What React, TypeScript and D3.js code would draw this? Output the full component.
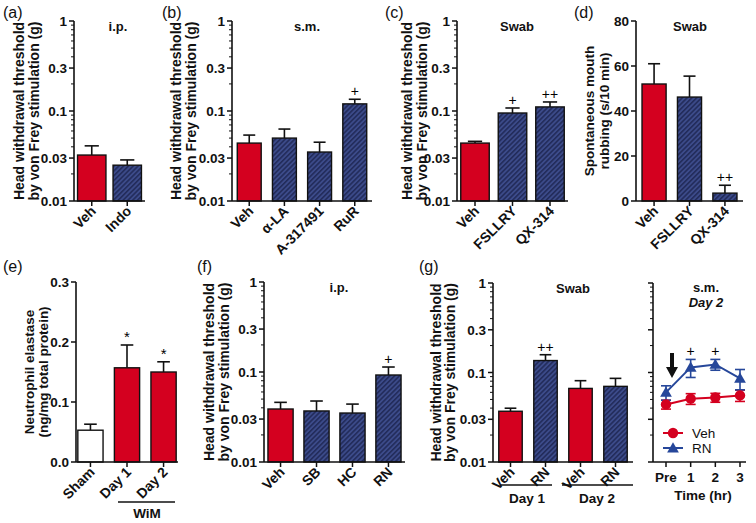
import React from "react";
import * as d3 from "d3";

// ---- data ----
const catsA = ["Veh", "Indo"];
const meanA = [0.0324, 0.025];
const semA = [0.0086, 0.0036];
const fillA = ["red", "hatch"];
const markA = ["", ""];

const catsB = ["Veh", "α-LA", "A-317491", "RuR"];
const meanB = [0.044, 0.05, 0.035, 0.12];
const semB = [0.01, 0.013, 0.01, 0.015];
const fillB = ["red", "hatch", "hatch", "hatch"];
const markB = ["", "", "", "+"];

const catsC = ["Veh", "FSLLRY", "QX-314"];
const meanC = [0.044, 0.095, 0.111];
const semC = [0.002, 0.013, 0.015];
const fillC = ["red", "hatch", "hatch"];
const markC = ["", "+", "++"];

const catsD = ["Veh", "FSLLRY", "QX-314"];
const meanD = [52, 46.2, 3.5];
const semD = [9, 9.3, 3.5];
const fillD = ["red", "hatch", "hatch"];
const markD = ["", "", "++"];

const catsE = ["Sham", "Day 1", "Day 2"];
const meanE = [0.053, 0.157, 0.15];
const semE = [0.01, 0.038, 0.017];
const fillE = ["white", "red", "red"];
const markE = ["", "*", "*"];

const catsF = ["Veh", "SB", "HC", "RN"];
const meanF = [0.0388, 0.0369, 0.035, 0.0926];
const semF = [0.0072, 0.0107, 0.009, 0.021];
const fillF = ["red", "hatch", "hatch", "hatch"];
const markF = ["", "", "", "+"];

const catsG = ["Veh", "RN", "Veh", "RN"];
const meanG = [0.0369, 0.136, 0.0664, 0.07];
const semG = [0.003, 0.022, 0.0146, 0.016];
const fillG = ["red", "hatch", "red", "hatch"];
const markG = ["", "++", "", ""];

const times = ["Pre", "1", "2", "3"];
const vehLine = [0.044, 0.051, 0.0525, 0.0555];
const vehLineSem = [0.005, 0.007, 0.006, 0.008];
const rnLine = [0.06, 0.114, 0.123, 0.086];
const rnLineSem = [0.011, 0.026, 0.017, 0.022];
const rnLineMark = ["", "+", "+", ""];

const logTicks = [0.01, 0.03, 0.1, 0.3, 1];
const logTickLabels = ["0.01", "0.03", "0.1", "0.3", "1"];
const ticksD = [0, 20, 40, 60, 80];
const ticksE = [0, 0.1, 0.2, 0.3];
const ticksELabels = ["0.0", "0.1", "0.2", "0.3"];

const headLabel = ["Head withdrawal threshold", "by von Frey stimulation (g)"];

const RED = "#d4001f";
const BLUE = "#3c4b8a";
const LINE_BLUE = "#26479a";
const INK = "#111";
const FONT = "Liberation Sans, Arial, sans-serif";

const fillOf = (f: string) =>
  f === "red" ? RED : f === "white" ? "#fff" : "url(#hatch)";

interface PanelProps {
  tag: string;
  tagX: number;
  title: string;
  titleX: number;
  axisX: number;
  xEnd: number;
  yTop: number;
  yBot: number;
  pi: number;
  po: number;
  cats: string[];
  means: number[];
  sems: number[];
  fills: string[];
  marks: string[];
  kind: "log" | "d" | "e";
  ylab: string[];
  ylabX: number[];
}

const BarPanel: React.FC<PanelProps> = (p) => {
  const x = d3
    .scaleBand<number>()
    .domain(p.cats.map((_, i) => i))
    .range([p.axisX, p.xEnd])
    .paddingInner(p.pi)
    .paddingOuter(p.po);

  let y: any;
  let major: number[];
  let majorLab: string[];
  let minor: number[] = [];
  if (p.kind === "log") {
    y = d3.scaleLog().domain([0.01, 1]).range([p.yBot, p.yTop]);
    major = logTicks;
    majorLab = logTickLabels;
    minor = y.ticks().filter((t: number) => !logTicks.some((m) => Math.abs(m - t) < 1e-9));
  } else if (p.kind === "d") {
    y = d3.scaleLinear().domain([0, 80]).range([p.yBot, p.yTop]);
    major = ticksD;
    majorLab = ticksD.map(String);
  } else {
    y = d3.scaleLinear().domain([0, 0.3]).range([p.yBot, p.yTop]);
    major = ticksE;
    majorLab = ticksELabels;
  }
  const bw = x.bandwidth();
  const yMid = (p.yTop + p.yBot) / 2;

  return (
    <g>
      <text x={p.tagX} y={p.yTop < 100 ? 18 : 272} fontSize={16} fill={INK}>
        {p.tag}
      </text>
      <text x={p.titleX} y={p.yTop + 10} fontSize={13} fontWeight="bold" textAnchor="middle" fill={INK}>
        {p.title}
      </text>
      {p.ylab.map((l, i) => (
        <text
          key={i}
          transform={`translate(${p.ylabX[i]},${yMid}) rotate(-90)`}
          textAnchor="middle"
          fontSize={p.kind === "log" ? 14 : 13.5}
          fontWeight="bold"
          fill={INK}
        >
          {l}
        </text>
      ))}
      {/* bars */}
      {p.means.map((m, i) => {
        const bx = x(i)!;
        const cx = bx + bw / 2;
        const ty = y(m);
        const ey = y(m + p.sems[i]);
        return (
          <g key={i}>
            <line x1={cx} x2={cx} y1={ty} y2={ey} stroke={INK} strokeWidth={1.6} />
            <line x1={cx - bw / 4} x2={cx + bw / 4} y1={ey} y2={ey} stroke={INK} strokeWidth={1.6} />
            <rect x={bx} y={ty} width={bw} height={p.yBot - ty} fill={fillOf(p.fills[i])} stroke={INK} strokeWidth={1.4} />
            {p.marks[i] && (
              <text x={cx} y={ey - 3} textAnchor="middle" fontSize={p.marks[i] === "*" ? 15 : 14} fill="#000">
                {p.marks[i]}
              </text>
            )}
          </g>
        );
      })}
      {/* y axis */}
      <line x1={p.axisX} x2={p.axisX} y1={p.yTop} y2={p.yBot} stroke={INK} strokeWidth={1.6} />
      {minor.map((t) => (
        <line key={t} x1={p.axisX - 3} x2={p.axisX} y1={y(t)} y2={y(t)} stroke={INK} strokeWidth={1} />
      ))}
      {major.map((t, i) => (
        <g key={t}>
          <line x1={p.axisX - 5} x2={p.axisX} y1={y(t)} y2={y(t)} stroke={INK} strokeWidth={1.5} />
          <text x={p.axisX - 7} y={y(t) + 5} textAnchor="end" fontSize={13.5} fontWeight="bold" fill={INK}>
            {majorLab[i]}
          </text>
        </g>
      ))}
      {/* x axis */}
      <line x1={p.axisX} x2={p.xEnd} y1={p.yBot} y2={p.yBot} stroke={INK} strokeWidth={1.6} />
      {p.cats.map((c, i) => {
        const cx = x(i)! + bw / 2;
        return (
          <g key={i}>
            <line x1={cx} x2={cx} y1={p.yBot} y2={p.yBot + 5} stroke={INK} strokeWidth={1.5} />
            <text
              transform={`translate(${cx + 5},${p.yBot + 11}) rotate(-45)`}
              textAnchor="end"
              fontSize={14}
              fontWeight="bold"
              fill={INK}
            >
              {c}
            </text>
          </g>
        );
      })}
    </g>
  );
};

const LinePanel: React.FC = () => {
  const axisX = 653;
  const xEnd = 746;
  const yTop = 283;
  const yBot = 462;
  const x = d3.scalePoint<string>().domain(times).range([666, 740]);
  const y = d3.scaleLog().domain([0.01, 1]).range([yBot, yTop]);
  const minor = y.ticks().filter((t) => !logTicks.some((m) => Math.abs(m - t) < 1e-9));
  const line = d3
    .line<number>()
    .x((_, i) => x(times[i])!)
    .y((d) => y(d));
  const tri = d3.symbol().type(d3.symbolTriangle).size(60)();
  const circ = d3.symbol().type(d3.symbolCircle).size(85)();

  const errs = (vals: number[], sems: number[], color: string) =>
    vals.map((v, i) => {
      const cx = x(times[i])!;
      const hi = y(v + sems[i]);
      const lo = y(v - sems[i]);
      return (
        <g key={i} stroke={color} strokeWidth={1.6}>
          <line x1={cx} x2={cx} y1={hi} y2={lo} />
          <line x1={cx - 5} x2={cx + 5} y1={hi} y2={hi} />
          <line x1={cx - 5} x2={cx + 5} y1={lo} y2={lo} />
        </g>
      );
    });

  const ax = x("Pre")! + 6;
  return (
    <g>
      <text x={706} y={yTop + 9} fontSize={13} fontWeight="bold" textAnchor="middle" fill={INK}>
        s.m.
      </text>
      <text x={706} y={yTop + 24} fontSize={13} fontWeight="bold" fontStyle="italic" textAnchor="middle" fill={INK}>
        Day 2
      </text>
      <path d={line(vehLine)!} fill="none" stroke={RED} strokeWidth={2} />
      <path d={line(rnLine)!} fill="none" stroke={LINE_BLUE} strokeWidth={2} />
      {errs(vehLine, vehLineSem, RED)}
      {errs(rnLine, rnLineSem, LINE_BLUE)}
      {vehLine.map((v, i) => (
        <path key={i} d={circ!} transform={`translate(${x(times[i])},${y(v)})`} fill={RED} />
      ))}
      {rnLine.map((v, i) => (
        <g key={i}>
          <path d={tri!} transform={`translate(${x(times[i])},${y(v) + 1})`} fill={LINE_BLUE} />
          {rnLineMark[i] && (
            <text x={x(times[i])} y={y(v + rnLineSem[i]) - 3} textAnchor="middle" fontSize={14} fill="#000">
              {rnLineMark[i]}
            </text>
          )}
        </g>
      ))}
      {/* arrow */}
      <path
        d={`M${ax - 2},${yTop + 70} L${ax + 2},${yTop + 70} L${ax + 2},${yTop + 84} L${ax + 6},${yTop + 84} L${ax},${yTop + 95} L${ax - 6},${yTop + 84} L${ax - 2},${yTop + 84} Z`}
        fill={INK}
      />
      {/* legend */}
      <line x1={663} x2={683} y1={433} y2={433} stroke={RED} strokeWidth={2} />
      <path d={circ!} transform="translate(673,433)" fill={RED} />
      <text x={692} y={438} fontSize={13.5} fill={INK}>Veh</text>
      <line x1={663} x2={683} y1={448} y2={448} stroke={LINE_BLUE} strokeWidth={2} />
      <path d={tri!} transform="translate(673,449)" fill={LINE_BLUE} />
      <text x={692} y={453} fontSize={13.5} fill={INK}>RN</text>
      {/* axes */}
      <line x1={axisX} x2={axisX} y1={yTop} y2={yBot} stroke={INK} strokeWidth={1.6} />
      {minor.map((t) => (
        <line key={t} x1={axisX - 3} x2={axisX} y1={y(t)} y2={y(t)} stroke={INK} strokeWidth={1} />
      ))}
      {logTicks.map((t) => (
        <line key={t} x1={axisX - 5} x2={axisX} y1={y(t)} y2={y(t)} stroke={INK} strokeWidth={1.5} />
      ))}
      <line x1={axisX} x2={xEnd} y1={yBot} y2={yBot} stroke={INK} strokeWidth={1.6} />
      {times.map((t) => (
        <g key={t}>
          <line x1={x(t)} x2={x(t)} y1={yBot} y2={yBot + 5} stroke={INK} strokeWidth={1.5} />
          <text x={x(t)} y={yBot + 20} textAnchor="middle" fontSize={13.5} fontWeight="bold" fill={INK}>
            {t}
          </text>
        </g>
      ))}
      <text x={703} y={yBot + 38} textAnchor="middle" fontSize={13.5} fontWeight="bold" fill={INK}>
        Time (hr)
      </text>
    </g>
  );
};

const App: React.FC = () => {
  return (
    <svg
      width={756}
      height={523}
      style={{ position: "absolute", left: 0, top: 0, background: "#fff" }}
      fontFamily={FONT}
    >
      <defs>
        <pattern id="hatch" patternUnits="userSpaceOnUse" width={3.4} height={3.4} patternTransform="rotate(45)">
          <rect width={3.4} height={3.4} fill={BLUE} />
          <line x1={0.8} y1={0} x2={0.8} y2={3.4} stroke="#1c2450" strokeWidth={1.3} />
        </pattern>
      </defs>
      <rect width={756} height={523} fill="#fff" />

      <BarPanel tag="(a)" tagX={3} title="i.p." titleX={118} axisX={74} xEnd={145} yTop={21} yBot={201}
        pi={0.2} po={0.1} cats={catsA} means={meanA} sems={semA} fills={fillA} marks={markA}
        kind="log" ylab={headLabel} ylabX={[24, 39]} />
      <BarPanel tag="(b)" tagX={162} title="s.m." titleX={307} axisX={232} xEnd={372} yTop={21} yBot={201}
        pi={0.32} po={0.15} cats={catsB} means={meanB} sems={semB} fills={fillB} marks={markB}
        kind="log" ylab={headLabel} ylabX={[181, 196]} />
      <BarPanel tag="(c)" tagX={385} title="Swab" titleX={517} axisX={457} xEnd={568} yTop={21} yBot={201}
        pi={0.24} po={0.1} cats={catsC} means={meanC} sems={semC} fills={fillC} marks={markC}
        kind="log" ylab={headLabel} ylabX={[412, 427]} />
      <BarPanel tag="(d)" tagX={574} title="Swab" titleX={690} axisX={636} xEnd={743} yTop={21} yBot={201}
        pi={0.32} po={0.17} cats={catsD} means={meanD} sems={semD} fills={fillD} marks={markD}
        kind="d" ylab={["Spontaneous mouth", "rubbing (s/10 min)"]} ylabX={[594, 609]} />

      <BarPanel tag="(e)" tagX={3} title="" titleX={0} axisX={76} xEnd={178} yTop={282} yBot={462}
        pi={0.31} po={0.05} cats={catsE} means={meanE} sems={semE} fills={fillE} marks={markE}
        kind="e" ylab={["Neutrophil elastase", "(ng/mg total protein)"]} ylabX={[34, 48]} />
      <BarPanel tag="(f)" tagX={197} title="i.p." titleX={339} axisX={264} xEnd={405} yTop={282} yBot={462}
        pi={0.3} po={0.11} cats={catsF} means={meanF} sems={semF} fills={fillF} marks={markF}
        kind="log" ylab={headLabel} ylabX={[214, 229]} />
      <BarPanel tag="(g)" tagX={419} title="Swab" titleX={573} axisX={493} xEnd={633} yTop={283} yBot={462}
        pi={0.33} po={0.165} cats={catsG} means={meanG} sems={semG} fills={fillG} marks={markG}
        kind="log" ylab={headLabel} ylabX={[441, 455]} />
      <LinePanel />

      {/* group brackets */}
      <line x1={118} x2={175} y1={502} y2={502} stroke={INK} strokeWidth={1.3} />
      <text x={147} y={518} textAnchor="middle" fontSize={13.5} fontWeight="bold" fill={INK}>WiM</text>
      <line x1={501} x2={552} y1={485} y2={485} stroke={INK} strokeWidth={1.3} />
      <text x={527} y={503} textAnchor="middle" fontSize={13.5} fontWeight="bold" fill={INK}>Day 1</text>
      <line x1={562} x2={633} y1={485} y2={485} stroke={INK} strokeWidth={1.3} />
      <text x={597} y={503} textAnchor="middle" fontSize={13.5} fontWeight="bold" fill={INK}>Day 2</text>
    </svg>
  );
};

export default App;
